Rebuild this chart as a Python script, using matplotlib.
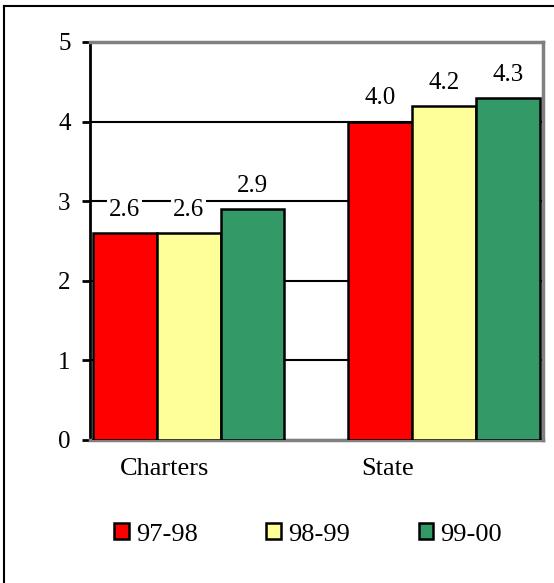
import matplotlib.pyplot as plt
from matplotlib.patches import Patch
from matplotlib.lines import Line2D
import numpy as np

plt.rcParams['font.family'] = ['Liberation Serif', 'DejaVu Serif']

groups = ["Charters", "State"]
years = ["97-98", "98-99", "99-00"]
values = {
    "97-98": [2.6, 4.0],
    "98-99": [2.6, 4.2],
    "99-00": [2.9, 4.3],
}
colors = ["#FF0000", "#FFFF99", "#339966"]

fig = plt.figure(figsize=(5.54, 5.83), dpi=100)
ax = fig.add_axes([0.1625, 0.2453, 0.8175, 0.6828])

x = np.arange(len(groups))
width = 0.25
for i, yr in enumerate(years):
    pos = x + (i - 1) * width
    ax.bar(pos, values[yr], width, color=colors[i], edgecolor="black",
           linewidth=1.8, zorder=3, label=yr)
    for xp, v in zip(pos, values[yr]):
        ax.text(xp, v + 0.29, f"{v:.1f}", ha="center", va="center", fontsize=18,
                zorder=4, bbox=dict(facecolor="white", edgecolor="none", pad=1))

ax.set_xlim(-0.385, 1.385)
ax.set_ylim(0, 5)
ax.set_yticks(range(6))
ax.tick_params(axis="y", labelsize=18, length=6, width=2, pad=8)
ax.set_xticks([])
ax.yaxis.grid(True, color="black", linewidth=1.5, zorder=0)
ax.set_axisbelow(True)

for side in ["top", "right", "bottom"]:
    ax.spines[side].set_color("#808080")
    ax.spines[side].set_linewidth(2.5)
ax.spines["left"].set_color("black")
ax.spines["left"].set_linewidth(2)

# category names sit a little left of the group centres
for name, xp in zip(groups, [-0.092, 0.779]):
    ax.text(xp, -0.22, name, ha="center", va="top", fontsize=19)

handles = [Patch(facecolor=c, edgecolor="black", linewidth=1.8) for c in colors]
fig.legend(handles, years, loc="center", bbox_to_anchor=(0.556, 0.083), ncol=3,
           frameon=False, fontsize=19, handlelength=0.55, handleheight=0.55,
           handletextpad=0.27, columnspacing=2.6)

# frame lines along the top and left edge
fig.add_artist(Line2D([4 / 554, 4 / 554], [0, 1 - 6 / 583], color="black", linewidth=1.5))
fig.add_artist(Line2D([4 / 554, 1], [1 - 6 / 583, 1 - 6 / 583], color="black", linewidth=1.5))

fig.savefig("out.png", dpi=100)
